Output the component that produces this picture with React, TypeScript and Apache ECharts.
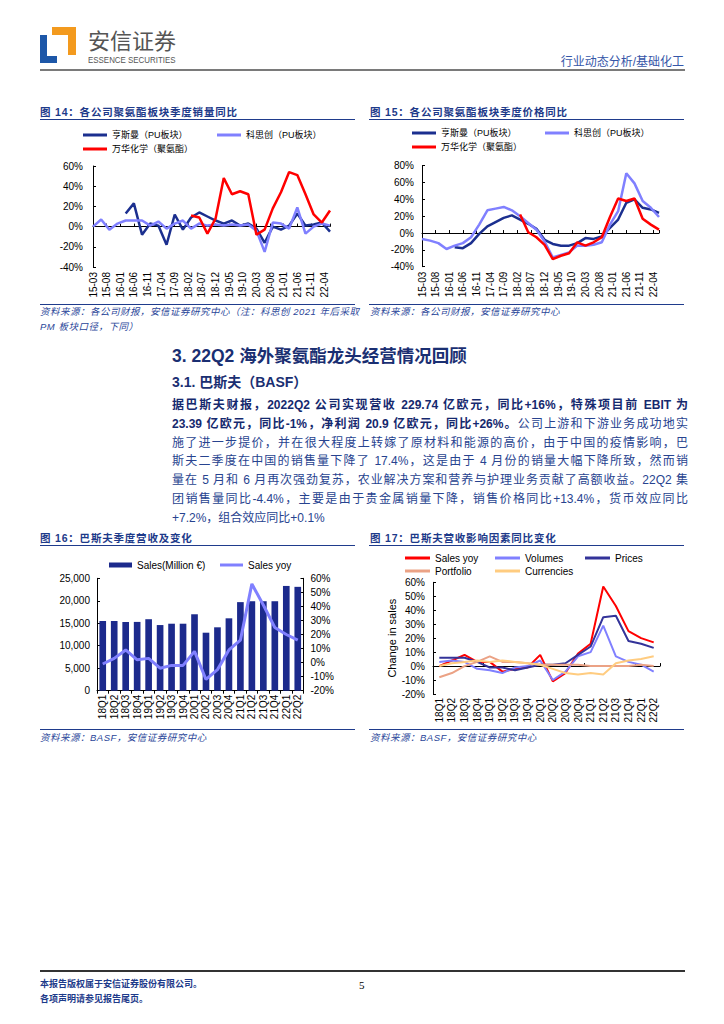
import React, { useEffect, useRef } from "react";
import * as echarts from "echarts";

// ---------------- data ----------------
const quarterDates = ["15-03","15-06","15-09","15-12","16-03","16-06","16-09","16-12","17-03","17-06","17-09","17-12","18-03","18-06","18-09","18-12","19-03","19-06","19-09","19-12","20-03","20-06","20-09","20-12","21-03","21-06","21-09","21-12","22-03","22-06"];
const monthTickLabels = ["15-03","15-08","16-01","16-06","16-11","17-04","17-09","18-02","18-07","18-12","19-05","19-10","20-03","20-08","21-01","21-06","21-11","22-04"];

const huntsmanVolume = [null,null,null,null,13,23,-8,3,1,-18,12,-3,9,14,10,6,3,6,1,3,-2,-16,0,-3,1,13,1,2,4,-5];
const covestroVolume = [0,7,-3,3,6,6,6,1,5,-2,3,6,-2,3,1,2,1,2,1,2,-4,-25,4,3,-2,19,-7,0,3,1];
const wanhuaVolume = [null,null,null,null,null,null,null,null,null,null,null,null,11,9,-7,8,48,32,35,32,-8,-3,18,34,54,51,32,12,4,16];

const huntsmanPrice = [null,null,null,null,-17,-18,-12,-1,8,13,18,21,16,11,5,-8,-13,-15,-15,-12,-6,-7,-4,6,16,36,40,30,28,24];
const covestroPrice = [-7,-9,-12,-19,-15,-12,-5,10,27,29,31,27,20,12,4,-10,-29,-26,-23,-15,-15,-14,-11,10,26,71,59,38,30,19];
const wanhuaPrice = [null,null,null,null,null,null,null,null,null,null,null,null,22,1,-5,-14,-31,-27,-24,-11,-15,-11,-5,19,41,38,41,17,10,4];

const basfQuarters = ["18Q1","18Q2","18Q3","18Q4","19Q1","19Q2","19Q3","19Q4","20Q1","20Q2","20Q3","20Q4","21Q1","21Q2","21Q3","21Q4","22Q1","22Q2"];
const basfSales = [15500,15500,15300,15300,15900,14600,14900,14900,17000,12900,14100,16100,19700,19900,19900,19900,23300,23100];
const basfSalesYoy = [-1,3,9,2,3,-4,-2,-2,8,-12,-5,9,16,56,41,25,20,16];

const effSalesYoy = [0,4,8,3,3,-4,-2,-1,8,-11,-5,9,16,57,43,25,20,17];
const effVolumes = [3,4,3,-2,-3,-5,-1,0,4,-10,-4,7,10,29,7,3,1,-4];
const effPrices = [6,6,6,3,-1,-1,-3,-1,1,1,2,8,14,35,36,18,16,13];
const effPortfolio = [-8,-5,0,3,7,3,3,2,1,1,1,1,0,0,0,0,1,0];
const effCurrencies = [0,2,3,4,3,4,3,2,1,-2,-5,-6,-5,-6,2,4,5,7];

const paragraphLines = [
  { b: "据巴斯夫财报，2022Q2 公司实现营收 229.74 亿欧元，同比+16%，特殊项目前 EBIT 为", n: "" },
  { b: "23.39 亿欧元，同比-1%，净利润 20.9 亿欧元，同比+26%。", n: "公司上游和下游业务成功地实" },
  { b: "", n: "施了进一步提价，并在很大程度上转嫁了原材料和能源的高价，由于中国的疫情影响，巴" },
  { b: "", n: "斯夫二季度在中国的销售量下降了 17.4%，这是由于 4 月份的销量大幅下降所致，然而销" },
  { b: "", n: "量在 5 月和 6 月再次强劲复苏，农业解决方案和营养与护理业务贡献了高额收益。22Q2 集" },
  { b: "", n: "团销售量同比-4.4%，主要是由于贵金属销量下降，销售价格同比+13.4%，货币效应同比" },
  { b: "", n: "+7.2%，组合效应同比+0.1%" },
];

// ---------------- helpers ----------------
const F = "'Liberation Sans', Arial, 'Noto Sans CJK SC', sans-serif";
const CJK = "'Liberation Sans', 'Noto Sans CJK SC', sans-serif";
const BLACK = "#000";
const NAVY = "#1f3b8c";
const lbl = { fontFamily: F, fontSize: 10, color: BLACK };

function monthIndex(d: string) {
  const [y, m] = d.split("-").map(Number);
  return (y - 15) * 12 + (m - 3);
}
function toPoints(values: (number | null)[]) {
  const out: number[][] = [];
  quarterDates.forEach((d, i) => {
    const v = values[i];
    if (v !== null && v !== undefined) out.push([monthIndex(d), v]);
  });
  return out;
}

function legendItem(name: string, left: number, cy: number, w = 24, h = 3, fontSize = 9) {
  return {
    data: [name], left, top: cy - 6, padding: 0, itemWidth: w, itemHeight: h, icon: "rect",
    itemGap: 0, selectedMode: false,
    textStyle: { fontFamily: F, fontSize, color: BLACK, lineHeight: 12 },
    itemStyle: { borderWidth: 0 },
    formatter: (n: string) => n.replace(/_\d+$/, ""),
  };
}

function monthAxes(grid: number) {
  const base = { gridIndex: grid, type: "value", min: 0, max: 87, interval: 5, position: "bottom", splitLine: { show: false } };
  return [
    {
      ...base,
      axisLine: { show: false, onZero: false },
      axisTick: { show: false },
      axisLabel: {
        ...lbl, rotate: 90, margin: 5,
        formatter: (v: number) => (v % 5 === 0 && monthTickLabels[v / 5]) || "",
      },
    },
    {
      ...base,
      axisLine: { show: true, onZero: true, lineStyle: { color: BLACK, width: 1 } },
      axisTick: { show: true, inside: true, length: 3, lineStyle: { color: BLACK } },
      axisLabel: { show: false },
    },
  ];
}

function pctAxis(grid: number, min: number, max: number, interval: number, margin: number, extra: any = {}) {
  return {
    gridIndex: grid, type: "value", min, max, interval,
    axisLine: { show: true, onZero: false, lineStyle: { color: BLACK } },
    axisTick: { show: true, inside: true, length: 3, lineStyle: { color: BLACK } },
    splitLine: { show: false },
    axisLabel: { ...lbl, margin, formatter: "{value}%" },
    ...extra,
  };
}

function line(name: string, data: any[], xAxisIndex: number, yAxisIndex: number, color: string, width: number) {
  return {
    type: "line", name, data, xAxisIndex, yAxisIndex, symbol: "none", showSymbol: false,
    color, lineStyle: { color, width }, itemStyle: { color }, animation: false,
  };
}

const C_HUN = "#1b2f8f";
const C_COV = "#8080ff";
const C_WAN = "#ff0000";

function buildOption() {
  const N1 = "亨斯曼（PU板块）";
  const N2 = "科思创（PU板块）";
  const N3 = "万华化学（聚氨酯）";
  return {
    animation: false,
    grid: [
      { left: 93, top: 166, width: 237, height: 101 },
      { left: 422, top: 165.7, width: 237, height: 101 },
      { left: 97, top: 578.3, width: 206.5, height: 112.4 },
      { left: 433, top: 582.3, width: 227, height: 111.7 },
    ],
    legend: [
      legendItem(N1, 83, 135),
      legendItem(N2, 217, 135),
      legendItem(N3, 83, 149),
      legendItem(N1 + "_15", 412, 133),
      legendItem(N2 + "_15", 545, 133),
      legendItem(N3 + "_15", 412, 147),
      legendItem("Sales(Million €)", 109, 565, 23, 5, 10),
      legendItem("Sales yoy", 220, 565, 23, 3, 10),
      legendItem("Sales yoy_17", 405, 558, 25, 3, 10),
      legendItem("Volumes", 495, 558, 25, 3, 10),
      legendItem("Prices", 585, 558, 25, 3, 10),
      legendItem("Portfolio", 405, 571, 25, 3, 10),
      legendItem("Currencies", 495, 571, 25, 3, 10),
    ],
    xAxis: [
      ...monthAxes(0),
      ...monthAxes(1),
      {
        gridIndex: 2, type: "category", data: basfQuarters, boundaryGap: true, position: "bottom",
        axisLine: { show: true, lineStyle: { color: BLACK } },
        axisTick: { show: true, inside: false, length: 3, lineStyle: { color: BLACK } },
        axisLabel: { ...lbl, rotate: 90, margin: 4, interval: 0 },
      },
      {
        gridIndex: 3, type: "category", data: basfQuarters, boundaryGap: true, position: "bottom",
        axisLine: { show: false, onZero: false },
        axisTick: { show: false },
        axisLabel: { ...lbl, rotate: 90, margin: 4, interval: 0 },
      },
      {
        gridIndex: 3, type: "category", data: basfQuarters, boundaryGap: true, position: "bottom",
        axisLine: { show: true, onZero: true, lineStyle: { color: BLACK } },
        axisTick: { show: true, inside: true, length: 3, lineStyle: { color: BLACK } },
        axisLabel: { show: false },
      },
    ],
    yAxis: [
      pctAxis(0, -40, 60, 20, 10),
      pctAxis(1, -40, 80, 20, 8),
      {
        gridIndex: 2, type: "value", min: 0, max: 25000, interval: 5000, position: "left",
        axisLine: { show: true, onZero: false, lineStyle: { color: BLACK } },
        axisTick: { show: true, inside: true, length: 3, lineStyle: { color: BLACK } },
        splitLine: { show: false },
        axisLabel: { ...lbl, margin: 7 },
      },
      pctAxis(2, -20, 60, 10, 7, { position: "right" }),
      pctAxis(3, -20, 60, 10, 8, {
        name: "Change in sales", nameLocation: "middle", nameRotate: 90, nameGap: 31,
        nameTextStyle: { fontFamily: F, fontSize: 11, color: BLACK },
      }),
    ],
    series: [
      line(N1, toPoints(huntsmanVolume), 0, 0, C_HUN, 2.5),
      line(N2, toPoints(covestroVolume), 0, 0, C_COV, 2.5),
      line(N3, toPoints(wanhuaVolume), 0, 0, C_WAN, 2.5),
      line(N1 + "_15", toPoints(huntsmanPrice), 2, 1, C_HUN, 2.5),
      line(N2 + "_15", toPoints(covestroPrice), 2, 1, C_COV, 2.5),
      line(N3 + "_15", toPoints(wanhuaPrice), 2, 1, C_WAN, 2.5),
      {
        type: "bar", name: "Sales(Million €)", data: basfSales, xAxisIndex: 4, yAxisIndex: 2,
        barWidth: "58%", itemStyle: { color: "#1c2a8c" }, color: "#1c2a8c",
      },
      line("Sales yoy", basfSalesYoy, 4, 3, "#8080ff", 3),
      line("Sales yoy_17", effSalesYoy, 5, 4, "#ff0000", 2),
      line("Volumes", effVolumes, 5, 4, "#8080ff", 2),
      line("Prices", effPrices, 5, 4, "#333399", 2),
      line("Portfolio", effPortfolio, 5, 4, "#eba285", 2),
      line("Currencies", effCurrencies, 5, 4, "#ffcc80", 2),
    ],
  };
}

// ---------------- page ----------------
function T(props: { x: number; y: number; size: number; children: any; style?: any; lh?: number }) {
  const lh = props.lh ?? Math.round(props.size * 1.35);
  return (
    <div
      style={{
        position: "absolute", left: props.x, top: props.y - lh / 2, fontSize: props.size,
        lineHeight: lh + "px", whiteSpace: "nowrap", fontFamily: CJK, color: NAVY, ...props.style,
      }}
    >
      {props.children}
    </div>
  );
}
function HLine(props: { x: number; y: number; w: number; h?: number; color?: string }) {
  return (
    <div style={{ position: "absolute", left: props.x, top: props.y, width: props.w, height: props.h ?? 1, background: props.color ?? NAVY }} />
  );
}

export default function App() {
  const ref = useRef<HTMLDivElement>(null);
  useEffect(() => {
    const chart = echarts.init(ref.current as HTMLDivElement, null, { renderer: "svg" });
    chart.setOption(buildOption() as any);
    return () => chart.dispose();
  }, []);

  const titleStyle = { fontWeight: 700, letterSpacing: "0.8px", color: "#1d3a8a" };
  const srcStyle = { fontStyle: "italic", letterSpacing: "0.5px", color: "#2a4699" };

  return (
    <div style={{ position: "absolute", left: 0, top: 0, width: 724, height: 1024, background: "#fff", overflow: "hidden" }}>
      {/* header */}
      <svg style={{ position: "absolute", left: 40, top: 27 }} width={37} height={37} viewBox="0 0 37 37">
        <rect x={12} y={0} width={24} height={28} fill="#f39a1e" />
        <rect x={0} y={8} width={17} height={28} fill="#1d57a8" />
        <rect x={7} y={8} width={21} height={21} fill="#ffffff" />
      </svg>
      <T x={88} y={39} size={22} lh={22} style={{ color: "#555", fontFamily: "'Noto Sans CJK SC', sans-serif" }}>安信证券</T>
      <T x={88} y={60.5} size={9} lh={9} style={{ color: "#555", fontFamily: "'Liberation Sans', Arial, sans-serif", transform: "scaleX(0.88)", transformOrigin: "left center" }}>ESSENCE SECURITIES</T>
      <div style={{ position: "absolute", right: 724 - 684, top: 54, fontSize: 12, lineHeight: "16px", fontFamily: CJK, color: "#3556a8", whiteSpace: "nowrap" }}>行业动态分析/基础化工</div>
      <HLine x={40} y={69} w={645} h={2} color="#7a7a7a" />

      {/* figure 14 / 15 titles */}
      <T x={40} y={112} size={10.5} style={titleStyle}>图 14：各公司聚氨酯板块季度销量同比</T>
      <HLine x={40} y={119} w={315} />
      <T x={370} y={112} size={10.5} style={titleStyle}>图 15：各公司聚氨酯板块季度价格同比</T>
      <HLine x={369} y={119} w={315} />

      <HLine x={40} y={304} w={315} />
      <HLine x={369} y={304} w={315} />
      <T x={40} y={311.5} size={9.5} style={srcStyle}>资料来源：各公司财报，安信证券研究中心（注：科思创 2021 年后采取</T>
      <T x={40} y={326} size={9.5} style={srcStyle}>PM 板块口径，下同）</T>
      <T x={370} y={311.5} size={9.5} style={srcStyle}>资料来源：各公司财报，安信证券研究中心</T>

      {/* section */}
      <T x={172} y={356} size={17.5} lh={22} style={{ fontWeight: 700, color: "#1a2f72" }}>3. 22Q2 海外聚氨酯龙头经营情况回顾</T>
      <T x={172} y={382} size={14} lh={18} style={{ fontWeight: 700, color: "#1a2f72" }}>3.1. 巴斯夫（BASF）</T>
      {paragraphLines.map((ln, k) => (
        <div
          key={k}
          style={{
            position: "absolute", left: 172, top: 405 + k * 18.8 - 9, width: 516, height: 18,
            fontSize: 12, lineHeight: "18px", fontFamily: CJK, color: "#27438f",
            textAlign: k === paragraphLines.length - 1 ? "left" : "justify",
            textAlignLast: k === paragraphLines.length - 1 ? "left" : "justify",
          } as any}
        >
          {ln.b ? <span style={{ fontWeight: 700, color: "#15296e" }}>{ln.b}</span> : null}
          {ln.n}
        </div>
      ))}

      {/* figure 16 / 17 */}
      <T x={40} y={537.7} size={10.5} style={titleStyle}>图 16：巴斯夫季度营收及变化</T>
      <HLine x={40} y={545} w={315} />
      <T x={370} y={537.7} size={10.5} style={titleStyle}>图 17：巴斯夫营收影响因素同比变化</T>
      <HLine x={369} y={545} w={315} />
      <HLine x={40} y={729} w={315} />
      <HLine x={369} y={729} w={315} />
      <T x={40} y={737} size={9.5} style={srcStyle}>资料来源：BASF，安信证券研究中心</T>
      <T x={370} y={737} size={9.5} style={srcStyle}>资料来源：BASF，安信证券研究中心</T>

      {/* footer */}
      <HLine x={40} y={970} w={645} h={2} color="#333" />
      <T x={40} y={983.5} size={9} style={{ fontWeight: 700, color: "#1d3a8a" }}>本报告版权属于安信证券股份有限公司。</T>
      <T x={40} y={999} size={9} style={{ fontWeight: 700, color: "#1d3a8a" }}>各项声明请参见报告尾页。</T>
      <T x={359} y={985} size={11} style={{ color: "#000", fontFamily: "'Liberation Serif', serif" }}>5</T>

      <div ref={ref} style={{ position: "absolute", left: 0, top: 0, width: 724, height: 1024 }} />
    </div>
  );
}
